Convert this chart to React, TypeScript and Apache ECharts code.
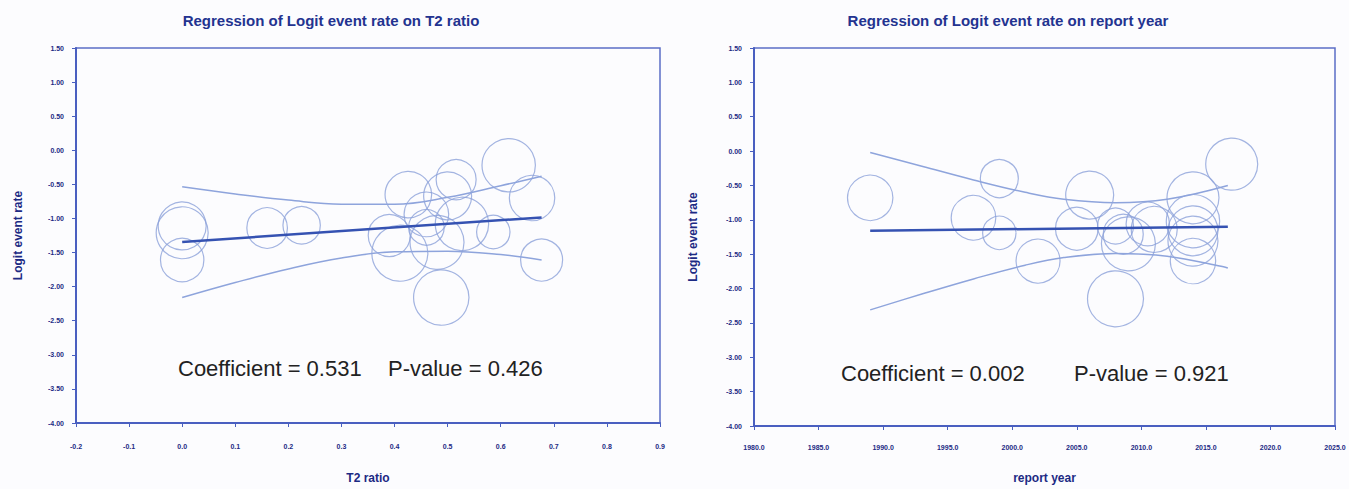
import React, { useEffect, useRef } from 'react';
import * as echarts from 'echarts';

// ---- Left panel: T2 ratio ----
const t2Ratio = [0.0, 0.0, 0.0, 0.16, 0.225, 0.615, 0.516, 0.426, 0.659, 0.5, 0.46, 0.527, 0.586, 0.46, 0.39, 0.48, 0.41, 0.677, 0.488];
const t2Logit = [-1.11, -1.21, -1.61, -1.14, -1.1, -0.22, -0.43, -0.65, -0.7, -0.67, -0.94, -1.08, -1.2, -1.13, -1.25, -1.35, -1.51, -1.61, -2.16];
const t2Weight = [24, 26, 21.7, 20.3, 18.7, 26.7, 20, 23.3, 22.7, 24, 22.3, 26.7, 16.7, 17.8, 21, 27, 28, 21, 27.7];
const t2FitX = [0, 0.677];
const t2FitY = [-1.345, -0.985];
const t2CiX = [0, 0.1, 0.2, 0.3, 0.4, 0.5, 0.6, 0.677];
const t2Upper = [-0.535, -0.64, -0.73, -0.79, -0.79, -0.69, -0.52, -0.38];
const t2Lower = [-2.16, -1.94, -1.74, -1.58, -1.49, -1.48, -1.53, -1.61];

// ---- Right panel: report year ----
const reportYear = [1989, 1999, 1997, 1999, 2002, 2006, 2005, 2008, 2009, 2008, 2010.5, 2011, 2008.6, 2017, 2014, 2014, 2014, 2014, 2014];
const yearLogit = [-0.68, -0.4, -0.97, -1.19, -1.6, -0.64, -1.13, -1.09, -1.35, -2.15, -1.06, -1.14, -1.21, -0.19, -0.68, -1.02, -1.16, -1.31, -1.6];
const yearWeight = [22.7, 19, 22.3, 16.7, 22, 24, 21.3, 18, 27, 28, 21.7, 23, 20, 26, 26, 26.7, 25, 25, 22.7];
const yearFitX = [1989, 2016.7];
const yearFitY = [-1.16, -1.1];
const yearCiX = [1989, 1993, 1997, 2001, 2004, 2008, 2012, 2016.7];
const yearUpper = [-0.02, -0.22, -0.42, -0.6, -0.7, -0.75, -0.7, -0.5];
const yearLower = [-2.31, -2.08, -1.86, -1.66, -1.55, -1.49, -1.53, -1.7];

// ---- Text ----
const titles = ['Regression of Logit event rate on T2 ratio', 'Regression of Logit event rate on report year'];
const xNames = ['T2 ratio', 'report year'];
const yName = 'Logit event rate';
const coefTexts = ['Coefficient = 0.531', 'Coefficient = 0.002'];
const pTexts = ['P-value = 0.426', 'P-value = 0.921'];

const FONT = "'Liberation Sans', Arial, sans-serif";
const AXIS = '#4a5fc0';
const NAVY = '#1c2a84';
const BUBBLE = '#8ca1d9';
const FIT = '#3552b2';
const CI = '#8ea4dc';

const zip = (xs: number[], ys: number[]) => xs.map((x, i) => [x, ys[i]]);

export default function App() {
  const ref = useRef<HTMLDivElement>(null);
  useEffect(() => {
    if (!ref.current) return;
    const chart = echarts.init(ref.current, null, { renderer: 'svg' });

    const xAxisBase = (gridIndex: number, min: number, max: number, interval: number, name: string, margin: number, nameGap: number) => ({
      gridIndex,
      type: 'value',
      min,
      max,
      interval,
      name,
      nameLocation: 'middle',
      nameGap,
      nameTextStyle: { fontFamily: FONT, fontSize: 12, fontWeight: 'bold', color: NAVY },
      axisLine: { show: true, onZero: false, lineStyle: { color: AXIS, width: 2 } },
      axisTick: { show: true, length: 4, lineStyle: { color: AXIS, width: 1 } },
      axisLabel: { margin, fontFamily: FONT, fontSize: 7, fontWeight: 'bold', color: NAVY, formatter: (v: number) => v.toFixed(1) },
      splitLine: { show: false },
    });
    const yAxisBase = (gridIndex: number, margin: number, nameGap: number) => ({
      gridIndex,
      type: 'value',
      min: -4,
      max: 1.5,
      interval: 0.5,
      name: yName,
      nameLocation: 'middle',
      nameGap,
      nameTextStyle: { fontFamily: FONT, fontSize: 12, fontWeight: 'bold', color: NAVY },
      axisLine: { show: true, onZero: false, lineStyle: { color: AXIS, width: 2 } },
      axisTick: { show: true, length: 4, lineStyle: { color: AXIS, width: 1 } },
      axisLabel: { margin, fontFamily: FONT, fontSize: 7, fontWeight: 'bold', color: NAVY, formatter: (v: number) => v.toFixed(2) },
      splitLine: { show: false },
    });

    const bubbles = (xi: number, xs: number[], ys: number[], ws: number[]) => ({
      type: 'scatter',
      xAxisIndex: xi,
      yAxisIndex: xi,
      symbol: 'circle',
      symbolSize: (v: number[]) => v[2] * 2,
      data: xs.map((x, i) => [x, ys[i], ws[i]]),
      itemStyle: { color: 'rgba(0,0,0,0)', borderColor: BUBBLE, borderWidth: 1.2 },
      silent: true,
      z: 2,
    });
    const line = (xi: number, data: number[][], color: string, width: number, smooth: boolean) => ({
      type: 'line',
      xAxisIndex: xi,
      yAxisIndex: xi,
      data,
      showSymbol: false,
      symbol: 'none',
      smooth: smooth ? 0.4 : false,
      lineStyle: { color, width },
      silent: true,
      z: 3,
    });

    chart.setOption({
      animation: false,
      backgroundColor: '#fcfcfe',
      grid: [
        { left: 76, right: 689, top: 48, bottom: 60, show: true, borderColor: '#5b6dc6', borderWidth: 1.5, backgroundColor: 'rgba(0,0,0,0)' },
        { left: 754, right: 14, top: 48, bottom: 62, show: true, borderColor: '#5b6dc6', borderWidth: 1.5, backgroundColor: 'rgba(0,0,0,0)' },
      ],
      xAxis: [
        xAxisBase(0, -0.2, 0.9, 0.1, xNames[0], 20, 49),
        xAxisBase(1, 1980, 2025, 5, xNames[1], 18, 46),
      ],
      yAxis: [yAxisBase(0, 12, 52), yAxisBase(1, 12, 55)],
      series: [
        bubbles(0, t2Ratio, t2Logit, t2Weight),
        line(0, zip(t2CiX, t2Upper), CI, 1.5, true),
        line(0, zip(t2CiX, t2Lower), CI, 1.5, true),
        line(0, zip(t2FitX, t2FitY), FIT, 2.5, false),
        bubbles(1, reportYear, yearLogit, yearWeight),
        line(1, zip(yearCiX, yearUpper), CI, 1.5, true),
        line(1, zip(yearCiX, yearLower), CI, 1.5, true),
        line(1, zip(yearFitX, yearFitY), FIT, 2.5, false),
      ],
      graphic: [
        { type: 'text', x: 331, y: 20, style: { text: titles[0], fontFamily: FONT, fontSize: 15, fontWeight: 'bold', fill: '#233390', align: 'center', verticalAlign: 'middle' } },
        { type: 'text', x: 1008, y: 20, style: { text: titles[1], fontFamily: FONT, fontSize: 15, fontWeight: 'bold', fill: '#233390', align: 'center', verticalAlign: 'middle' } },
        { type: 'text', x: 178, y: 368, style: { text: coefTexts[0], fontFamily: FONT, fontSize: 22, fill: '#222', align: 'left', verticalAlign: 'middle' } },
        { type: 'text', x: 388, y: 368, style: { text: pTexts[0], fontFamily: FONT, fontSize: 22, fill: '#222', align: 'left', verticalAlign: 'middle' } },
        { type: 'text', x: 841, y: 373, style: { text: coefTexts[1], fontFamily: FONT, fontSize: 22, fill: '#222', align: 'left', verticalAlign: 'middle' } },
        { type: 'text', x: 1074, y: 373, style: { text: pTexts[1], fontFamily: FONT, fontSize: 22, fill: '#222', align: 'left', verticalAlign: 'middle' } },
      ],
    });
    return () => chart.dispose();
  }, []);
  return <div ref={ref} style={{ position: 'fixed', left: 0, top: 0, width: 1349, height: 489 }} />;
}
